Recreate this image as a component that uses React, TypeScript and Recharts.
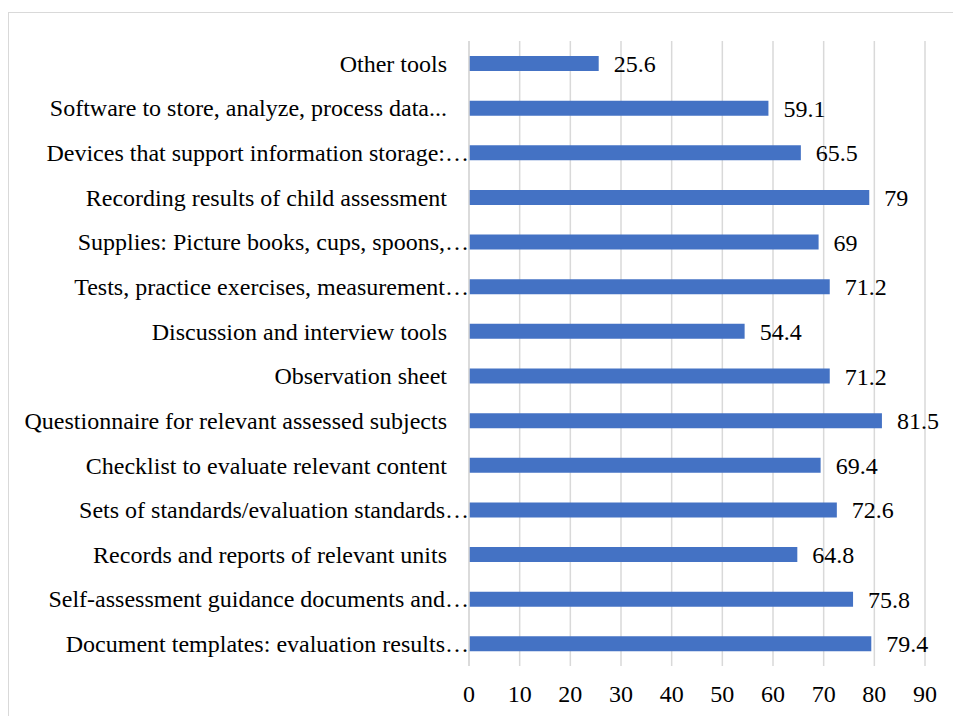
import React from "react";
import { BarChart, Bar, XAxis, YAxis, CartesianGrid, LabelList } from "recharts";

const categories = [
  "Other tools",
  "Software to store, analyze, process data...",
  "Devices that support information storage:…",
  "Recording results of child assessment",
  "Supplies: Picture books, cups, spoons,…",
  "Tests, practice exercises, measurement…",
  "Discussion and interview tools",
  "Observation sheet",
  "Questionnaire for relevant assessed subjects",
  "Checklist to evaluate relevant content",
  "Sets of standards/evaluation standards…",
  "Records and reports of relevant units",
  "Self-assessment guidance documents and…",
  "Document templates: evaluation results…",
];

const values = [25.6, 59.1, 65.5, 79, 69, 71.2, 54.4, 71.2, 81.5, 69.4, 72.6, 64.8, 75.8, 79.4];

const xTicks = [0, 10, 20, 30, 40, 50, 60, 70, 80, 90];

const data = categories.map((name, i) => ({ name, value: values[i] }));

const FONT = "Liberation Serif, serif";
const GRID = "#d9d9d9";

// Excel pushes the truncated labels right up to the axis
const CategoryTick = ({ x, y, payload }: any) => {
  const cut = String(payload.value).endsWith("…");
  return (
    <text
      x={x - (cut ? 0 : 22)}
      y={y}
      dy="0.35em"
      textAnchor="end"
      fill="#000"
      style={{ fontSize: 24, fontFamily: FONT }}
    >
      {payload.value}
    </text>
  );
};

export default function App() {
  return (
    <div
      style={{
        position: "fixed",
        left: 0,
        top: 0,
        width: 953,
        height: 716,
        overflow: "hidden",
        background: "#fff",
        fontFamily: FONT,
      }}
    >
      <div
        style={{
          position: "absolute",
          left: 8,
          top: 12,
          width: 980,
          height: 740,
          border: `1px solid ${GRID}`,
        }}
      />
      <div style={{ position: "absolute", left: 0, top: 0 }}>
        <BarChart
          width={953}
          height={716}
          data={data}
          layout="vertical"
          margin={{ top: 41, right: 28, bottom: 10, left: 0 }}
          style={{ fontFamily: FONT }}
        >
          <CartesianGrid horizontal={false} stroke={GRID} strokeWidth={1.5} />
          <XAxis
            type="number"
            domain={[0, 90]}
            ticks={xTicks}
            axisLine={false}
            tickLine={false}
            tickMargin={13}
            height={40}
            tick={{ fill: "#000", fontSize: 24, style: { fontFamily: FONT } }}
          />
          <YAxis
            type="category"
            dataKey="name"
            width={469}
            axisLine={{ stroke: GRID, strokeWidth: 1.5 }}
            tickLine={false}
            tickSize={0}
            tickMargin={0}
            interval={0}
            tick={<CategoryTick />}
          />
          <Bar dataKey="value" fill="#4472C4" barSize={15} isAnimationActive={false}>
            <LabelList
              dataKey="value"
              position="right"
              offset={15}
              fill="#000"
              fontSize={24}
              style={{ fontFamily: FONT }}
            />
          </Bar>
        </BarChart>
      </div>
    </div>
  );
}
